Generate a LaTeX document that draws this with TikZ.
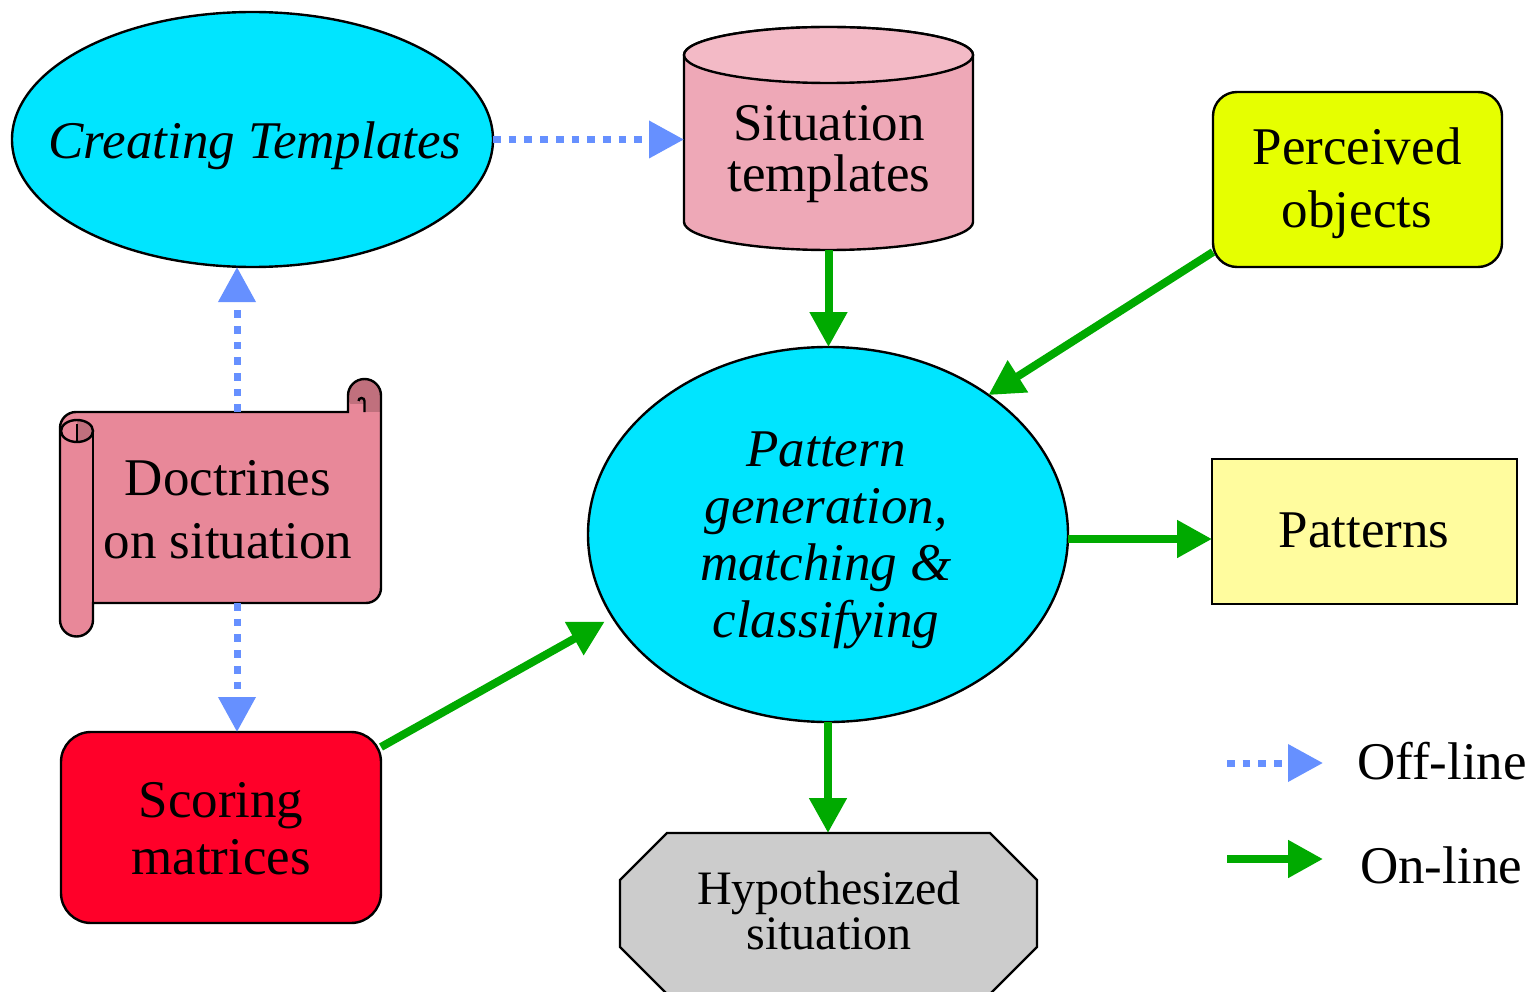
\documentclass[tikz,border=0pt]{standalone}
\usepackage{fontspec}
\setmainfont{Liberation Serif}
\usetikzlibrary{shapes.geometric,arrows.meta,calc}

\definecolor{skycyan}{RGB}{0,229,255}
\definecolor{tplpink}{RGB}{238,168,183}
\definecolor{tpltop}{RGB}{243,186,198}
\definecolor{scrollpink}{RGB}{232,136,153}
\definecolor{scrolldark}{RGB}{192,112,125}
\definecolor{limeyellow}{RGB}{230,255,0}
\definecolor{scorered}{RGB}{255,0,41}
\definecolor{paleyellow}{RGB}{255,252,158}
\definecolor{hypgray}{RGB}{204,204,204}
\definecolor{offblue}{RGB}{102,144,255}
\definecolor{ongreen}{RGB}{0,170,0}

\begin{document}
\begin{tikzpicture}[x=1pt,y=-1pt,
  outline/.style={draw=black,line width=2.4pt},
  area/.style={inner sep=0pt,outer sep=0pt},
  lbl/.style={align=center,anchor=base,inner sep=0pt},
  big/.style={font=\fontsize{53}{#1}\selectfont},
  offline/.style={draw=offblue,line width=7pt,dash pattern=on 7.7pt off 8pt,
    -{Triangle[length=35pt,width=36pt,fill=offblue]}},
  online/.style={draw=ongreen,line width=8pt,
    -{Triangle[length=35pt,width=36pt,fill=ongreen]}},
]
\useasboundingbox (0,0) rectangle (1528,992);

% ---------- process ellipses ----------
\node[area,ellipse,outline,fill=skycyan,minimum width=481pt,minimum height=255pt]
  (ct) at (252.5,139.5) {};
\node[lbl,big=63] (ct-t) at (255,159) {\itshape Creating Templates};

\node[area,ellipse,outline,fill=skycyan,minimum width=480pt,minimum height=375pt]
  (pe) at (828,534.5) {};
% multi-line labels sit on the baseline of their last line
\node[lbl,big=57] (pe-t) at (826,637)
  {\itshape Pattern\\\itshape generation,\\\itshape matching \&\\\itshape classifying};

% ---------- template store (cylinder) ----------
\node[area,minimum width=289pt,minimum height=223pt] (st) at (828.5,138.5) {};
\path[outline,fill=tplpink] (684,55) -- (684,222) arc (180:360:144.5pt and 28pt)
  -- (973,55) arc (0:180:144.5pt and 28pt) -- cycle;
\path[outline,fill=tpltop] (828.5,55) ellipse [x radius=144.5pt,y radius=28pt];
\node[lbl,big=51] (st-t) at (829,192) {Situation\\templates};

% ---------- perceived objects ----------
\node[area,outline,fill=limeyellow,rounded corners=24pt,minimum width=289pt,
  minimum height=175pt] (po) at (1357.5,179.5) {};
\node[lbl,big=63] (po-t) at (1357,228) {Perceived\\objects};

% ---------- doctrines (scroll) ----------
\node[area,minimum width=321pt,minimum height=191pt] (dc) at (220.5,507.5) {};
\fill[scrollpink] (60,428) arc (180:90:16pt) -- (348,412) -- (348,395.5)
  arc (180:0:16.5pt) -- (381,588) arc (0:-90:15pt) -- (93,603) -- (93,620)
  arc (0:-180:16.5pt) -- cycle;
% rolled-up end at the upper right
\fill[scrolldark] (364.5,395.5) circle[radius=16.5pt];
\fill[scrolldark] (364.5,395.5) rectangle (381,412);
\fill[scrollpink] (348,404) rectangle (364.5,412);
% rolled-up end at the upper left
\fill[scrolldark] (77,420) arc (90:-90:16pt and 11pt) -- cycle;
\draw[line width=2.4pt] (60,428) arc (180:90:16pt) -- (348,412) -- (348,395.5)
  arc (180:0:16.5pt) -- (381,588) arc (0:-90:15pt) -- (93,603) -- (93,620)
  arc (0:-180:16.5pt) -- cycle;
\draw[line width=2.4pt] (77,431) ellipse [x radius=16pt,y radius=11pt];
\draw[line width=2.4pt] (77,424) -- (77,442);
\draw[line width=2.4pt] (93,431) -- (93,603);
\draw[line width=2.4pt] (364.5,412) -- (364.5,401) arc (0:180:3pt);
\node[lbl,big=63] (dc-t) at (228,558) {Doctrines\\on situation};

% ---------- scoring matrices ----------
\node[area,outline,fill=scorered,rounded corners=30pt,minimum width=320pt,
  minimum height=191pt] (sm) at (221,827.5) {};
\node[lbl,big=57] (sm-t) at (221,874) {Scoring\\matrices};

% ---------- patterns ----------
\node[area,outline,fill=paleyellow,minimum width=305pt,minimum height=145pt]
  (pt) at (1364.5,531.5) {};
\node[lbl,big=63] (pt-t) at (1364,547) {Patterns};

% ---------- hypothesized situation (octagon) ----------
\node[area,minimum width=417pt,minimum height=161pt] (hs) at (828.5,913.5) {};
\path[outline,fill=hypgray] (667,833) -- (990,833) -- (1037,880) -- (1037,947)
  -- (990,994) -- (667,994) -- (620,947) -- (620,880) -- cycle;
\node[lbl,font=\fontsize{48}{45}\selectfont] (hs-t) at (829,949)
  {Hypothesized\\situation};

% ---------- off-line flows ----------
\draw[offline] (ct.east) -- (ct.east -| st.west);
\coordinate (dcN) at ($(dc.north)+(16.5,0)$);
\coordinate (dcS) at ($(dc.south)+(16.5,0)$);
\draw[offline] (dcN) -- (dcN |- ct.south);
\draw[offline] (dcS) -- (dcS |- sm.north);

% ---------- on-line flows ----------
\draw[online] (st.south) -- (st.south |- pe.north);
\draw[online] ($(po.south west)+(0,-15)$) -- (pe.41);
\draw[online,shorten >=9pt] ($(sm.north east)+(0,15)$) -- (pe.201);
\coordinate (peE) at ($(pe.east)+(0,4.5)$);
\draw[online] (peE) -- (peE -| pt.west);
\draw[online] (pe.south) -- (pe.south |- hs.north);

% ---------- legend ----------
\coordinate (k1a) at (1227,763);
\coordinate (k1b) at (1323,763);
\coordinate (k2a) at (1227,859);
\coordinate (k2b) at (1323,859);
\draw[offline] (k1a) -- (k1b);
\draw[online] (k2a) -- (k2b);
\node[lbl,big=63,anchor=base west] (k1-t) at (1357,779) {Off-line};
\node[lbl,big=63,anchor=base west] (k2-t) at (1360,883) {On-line};
\end{tikzpicture}
\end{document}
